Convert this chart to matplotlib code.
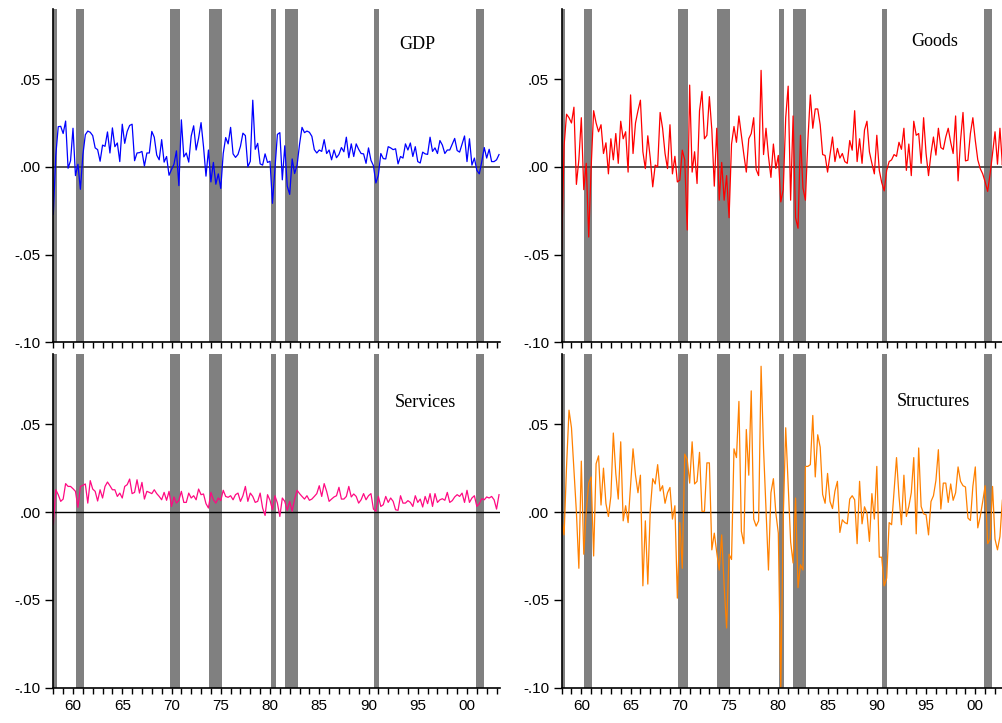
import numpy as np
import matplotlib
matplotlib.use("Agg")
import matplotlib.pyplot as plt
from matplotlib.ticker import MultipleLocator, FuncFormatter

# quarterly growth rates (log differences), 1958Q1 onwards
gdp = [-0.027, 0.0064, 0.0229, 0.0231, 0.019, 0.0261, -0.0008, 0.0035,
       0.022, -0.005, 0.0015, -0.0128, 0.0067, 0.0183, 0.0204, 0.0197,
       0.0178, 0.0108, 0.0098, 0.0032, 0.0124, 0.0117, 0.0199, 0.0079,
       0.0222, 0.0115, 0.0136, 0.003, 0.0243, 0.0134, 0.0202, 0.0236,
       0.0243, 0.0035, 0.0079, 0.0081, 0.0088, 0.0005, 0.0079, 0.0079,
       0.0202, 0.0169, 0.0067, 0.004, 0.0155, 0.0027, 0.0059, -0.0048,
       -0.0015, 0.0015, 0.0091, -0.0107, 0.0268, 0.0057, 0.0079, 0.0027,
       0.0176, 0.0234, 0.0096, 0.0164, 0.0252, 0.0115, -0.0053, 0.0096,
       -0.0086, 0.0025, -0.0099, -0.004, -0.0123, 0.0076, 0.0167, 0.0131,
       0.0225, 0.0074, 0.0054, 0.0071, 0.0117, 0.0192, 0.0178, 0.0,
       0.0032, 0.038, 0.0100, 0.0134, 0.0017, 0.001, 0.0074, 0.0025,
       0.0032, -0.0208, -0.0013, 0.0185, 0.0195, -0.0074, 0.012, -0.011,
       -0.0157, 0.0045, -0.0038, 0.001, 0.0129, 0.0225, 0.0195, 0.0204,
       0.0197, 0.0174, 0.0098, 0.0079, 0.0096, 0.0088, 0.0155, 0.0076,
       0.0096, 0.004, 0.0096, 0.0052, 0.0071, 0.011, 0.0086, 0.0169,
       0.0052, 0.0131, 0.0059, 0.0131, 0.01, 0.0076, 0.0074, 0.002,
       0.0108, 0.0037, 0.0007, -0.0092, -0.0048, 0.0076, 0.0047, 0.0045,
       0.0115, 0.0108, 0.0098, 0.0103, 0.0017, 0.0059, 0.005, 0.0131,
       0.0096, 0.0136, 0.0059, 0.0115, 0.003, 0.0022, 0.0084, 0.0074,
       0.0071, 0.0169, 0.0088, 0.0108, 0.0076, 0.015, 0.0124, 0.0076,
       0.0096, 0.0096, 0.0129, 0.0162, 0.0093, 0.0084, 0.0131, 0.0176,
       0.003, 0.016, 0.001, 0.005, -0.002, -0.004, 0.003, 0.011,
       0.005, 0.010, 0.003, 0.003, 0.004, 0.007]

goods = [-0.047, 0.012, 0.030, 0.028, 0.025, 0.034, -0.010, 0.004,
         0.028, -0.013, 0.002, -0.040, 0.000, 0.032, 0.025, 0.020,
         0.024, 0.0076, 0.0137, -0.004, 0.016, 0.004, 0.019, 0.002,
         0.026, 0.016, 0.020, -0.003, 0.041, 0.0076, 0.025, 0.032,
         0.038, 0.0086, -0.001, 0.0177, 0.0048, -0.0114, 0.001, 0.000,
         0.031, 0.022, 0.0076, -0.001, 0.024, -0.004, 0.006, -0.0086,
         -0.0076, 0.0095, 0.004, -0.036, 0.0466, -0.003, 0.0086, -0.0095,
         0.032, 0.043, 0.016, 0.018, 0.040, 0.021, -0.011, 0.022,
         -0.019, 0.0025, -0.019, -0.005, -0.029, 0.013, 0.023, 0.014,
         0.029, 0.018, 0.007, -0.003, 0.016, 0.019, 0.028, -0.0015,
         -0.005, 0.055, 0.007, 0.022, 0.006, -0.006, 0.013, -0.001,
         0.0065, -0.020, -0.013, 0.028, 0.046, -0.019, 0.029, -0.029,
         -0.035, 0.018, -0.012, -0.019, 0.015, 0.041, 0.022, 0.033,
         0.033, 0.024, 0.007, 0.0065, -0.003, 0.007, 0.017, 0.003,
         0.0105, 0.005, 0.0076, 0.003, 0.002, 0.015, 0.0095, 0.032,
         0.003, 0.016, 0.002, 0.021, 0.026, 0.0085, 0.002, -0.004,
         0.018, -0.002, -0.009, -0.0137, -0.002, 0.003, 0.004, 0.007,
         0.006, 0.014, 0.010, 0.022, -0.002, 0.013, -0.005, 0.026,
         0.018, 0.019, 0.002, 0.028, 0.0076, -0.005, 0.0076, 0.017,
         0.0067, 0.022, 0.011, 0.010, 0.017, 0.022, 0.014, 0.0076,
         0.029, -0.008, 0.015, 0.031, 0.0034, 0.0038, 0.019, 0.028,
         0.015, 0.004, -0.001, -0.004, -0.0086, -0.014, -0.004, 0.0076,
         0.020, 0.0015, 0.022, 0.001, 0.021, -0.004]

services = [-0.0072, 0.0127, 0.0099, 0.0061, 0.0074, 0.0162, 0.0146, 0.0146,
            0.0133, 0.0118, 0.0027, 0.0146, 0.0152, 0.0160, 0.0051, 0.0179,
            0.0131, 0.0118, 0.0063, 0.0127, 0.0080, 0.0146, 0.0171, 0.0150,
            0.0127, 0.0127, 0.0089, 0.0108, 0.0080, 0.0146, 0.0156, 0.0188,
            0.0105, 0.0112, 0.0184, 0.0108, 0.0169, 0.0074, 0.0118, 0.0112,
            0.0105, 0.0127, 0.0105, 0.0089, 0.0070, 0.0112, 0.0067, 0.0118,
            0.0032, 0.0086, 0.0051, 0.0067, 0.0118, 0.0055, 0.0055, 0.0108,
            0.0080, 0.0093, 0.0070, 0.0131, 0.0099, 0.0103, 0.0048, 0.0023,
            0.0112, 0.0070, 0.0051, 0.0080, 0.0065, 0.0124, 0.0089, 0.0084,
            0.0093, 0.0070, 0.0099, 0.0108, 0.0061, 0.0093, 0.0146, 0.0061,
            0.0108, 0.0089, 0.0055, 0.0061, 0.0108, 0.0023, -0.0019, 0.0099,
            0.0067, 0.0013, 0.0093, 0.0051, -0.0025, 0.0080, 0.0061, 0.0010,
            0.0061, 0.0004, 0.0074, 0.0124, 0.0105, 0.0089, 0.0074, 0.0093,
            0.0067, 0.0074, 0.0089, 0.0105, 0.0150, 0.0089, 0.0162, 0.0118,
            0.0061, 0.0074, 0.0086, 0.0093, 0.0141, 0.0074, 0.0074, 0.0089,
            0.0146, 0.0086, 0.0103, 0.0089, 0.0051, 0.0070, 0.0105, 0.0070,
            0.0093, 0.0105, 0.0017, 0.0004, 0.0089, 0.0032, 0.0042, 0.0089,
            0.0055, 0.0080, 0.0061, 0.0013, 0.0010, 0.0093, 0.0051, 0.0051,
            0.0065, 0.0055, 0.0032, 0.0093, 0.0055, 0.0074, 0.0029, 0.0089,
            0.0048, 0.0105, 0.0032, 0.0105, 0.0055, 0.0070, 0.0076, 0.0067,
            0.0112, 0.0055, 0.0065, 0.0086, 0.0099, 0.0089, 0.0108, 0.0055,
            0.0124, 0.0055, 0.0080, 0.0093, 0.0032, 0.0048, 0.0076, 0.0070,
            0.0086, 0.0080, 0.0089, 0.0070, 0.0017, 0.0099]

structures = [-0.0034, -0.013, 0.026, 0.058, 0.048, 0.024, 0.0, -0.032,
              0.029, -0.024, 0.0004, 0.0165, 0.020, -0.025, 0.0275, 0.032,
              0.004, 0.025, 0.0048, -0.0025, 0.009, 0.045, 0.022, 0.0074,
              0.040, -0.005, 0.0036, -0.006, 0.015, 0.036, 0.021, 0.011,
              0.021, -0.042, -0.005, -0.041, 0.0013, 0.019, 0.016, 0.027,
              0.012, 0.015, 0.005, 0.011, 0.014, -0.004, 0.0036, -0.049,
              -0.006, -0.032, 0.033, 0.030, 0.0165, 0.040, 0.016, 0.0175,
              0.034, 0.0004, 0.0004, 0.028, 0.028, -0.0215, -0.012, -0.023,
              -0.033, -0.013, -0.042, -0.066, -0.024, -0.027, 0.036, 0.031,
              0.063, -0.011, -0.018, 0.047, 0.021, 0.069, -0.004, -0.008,
              -0.005, 0.083, 0.036, 0.002, -0.033, 0.011, 0.019, -0.0006,
              -0.012, -0.101, -0.0034, 0.048, 0.015, -0.017, -0.029, 0.008,
              -0.043, -0.030, -0.033, 0.026, 0.026, 0.027, 0.055, 0.020,
              0.044, 0.037, 0.010, 0.005, 0.022, 0.006, 0.002, 0.012,
              0.0175, -0.0116, -0.0044, -0.006, -0.0067, 0.0074, 0.0093, 0.007,
              -0.018, 0.0175, -0.0067, 0.003, -0.0006, -0.0167, 0.0105, -0.004,
              0.026, -0.0257, -0.0257, -0.042, -0.0376, -0.006, -0.0072, 0.0118,
              0.031, 0.009, -0.0072, 0.021, -0.0025, 0.0032, 0.011, 0.031,
              -0.0124, 0.0365, 0.0032, -0.001, -0.0015, -0.013, 0.006, 0.0093,
              0.018, 0.0355, 0.0017, 0.0165, 0.0165, 0.0055, 0.016, 0.0067,
              0.011, 0.0257, 0.0175, 0.015, 0.0143, -0.0034, -0.0048, 0.0146,
              0.0257, -0.009, -0.0025, 0.006, 0.015, -0.018, -0.0154, 0.0146,
              -0.0154, -0.0215, -0.0139, 0.007, 0.008]

# recession periods (start, end) in years
recessions = [(1957.6, 1958.35), (1960.30, 1961.12), (1969.85, 1970.85),
              (1973.81, 1975.13), (1980.10, 1980.61), (1981.52, 1982.84),
              (1990.56, 1991.07), (2000.92, 2001.73)]

panels = [("GDP", gdp, "#0000ff"), ("Goods", goods, "#ff0000"),
          ("Services", services, "#ff0a82"), ("Structures", structures, "#ff8000")]
label_pos = [(0.814, 0.892), (0.836, 0.901), (0.832, 0.856), (0.832, 0.859)]

fig = plt.figure(figsize=(10.02, 7.23), dpi=100)
rects = [[0.0532, 0.5266, 0.4458, 0.461], [0.5605, 0.5266, 0.4458, 0.461],
         [0.0532, 0.0488, 0.4458, 0.4616], [0.5605, 0.0488, 0.4458, 0.4616]]

yfmt = FuncFormatter(lambda v, p: f"{v:.2f}".replace("0.", ".", 1))
xfmt = FuncFormatter(lambda v, p: f"{int(round(v)) % 100:02d}")

for k, (name, vals, col) in enumerate(panels):
    ax = fig.add_axes(rects[k])
    t = 1958 + np.arange(len(vals)) / 4.0
    for a, b in recessions:
        ax.axvspan(a, b, color="#808080", lw=0, zorder=0)
    ax.axhline(0, color="#444444" if k < 2 else "k", lw=1.3 if k < 2 else 1.0, zorder=1)
    ax.plot(t, vals, color=col, lw=0.9, zorder=2)
    ax.set_xlim(1958, 2003.35)
    ax.set_ylim(-0.10, 0.09)
    for s in ["top", "right"]:
        ax.spines[s].set_visible(False)
    for s in ["left", "bottom"]:
        ax.spines[s].set_linewidth(1.2)
    ax.yaxis.set_major_locator(MultipleLocator(0.05))
    ax.yaxis.set_major_formatter(yfmt)
    ax.xaxis.set_major_locator(MultipleLocator(5))
    ax.xaxis.set_minor_locator(MultipleLocator(1))
    ax.xaxis.set_major_formatter(xfmt)
    ax.tick_params(axis="y", direction="out", length=6, width=1, pad=3,
                   labelsize=11, labelfontfamily="Liberation Sans")
    ax.tick_params(axis="x", which="both", direction="out", length=4, width=1,
                   pad=4, labelsize=11, labelfontfamily="Liberation Sans")
    if k < 2:
        ax.tick_params(axis="x", labelbottom=False)
    ax.text(label_pos[k][0], label_pos[k][1], name, transform=ax.transAxes,
            ha="center", va="center", fontsize=13, family="Liberation Serif")

fig.savefig("out.png", dpi=100)
